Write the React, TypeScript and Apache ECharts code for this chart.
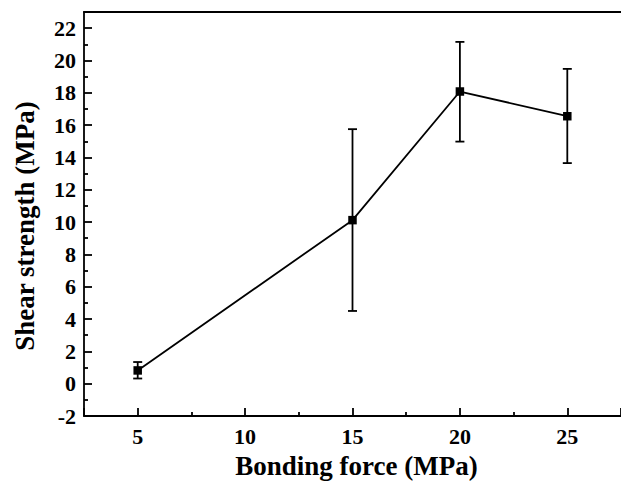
import React, { useEffect, useRef } from "react";
import * as echarts from "echarts";

const bondingForce = [5, 15, 20, 25];
const shearStrength = [0.82, 10.12, 18.08, 16.55];
const errLow = [0.32, 4.5, 14.98, 13.65];
const errHigh = [1.34, 15.75, 21.15, 19.48];

const FONT = "'Liberation Serif', 'Times New Roman', serif";

export default function App() {
  const ref = useRef<HTMLDivElement>(null);
  useEffect(() => {
    if (!ref.current) return;
    const chart = echarts.init(ref.current, undefined, { renderer: "svg" });
    const lineData = bondingForce.map((x, i) => [x, shearStrength[i]]);
    const errData = bondingForce.map((x, i) => [x, errLow[i], errHigh[i]]);
    const axisLineStyle = { color: "#000", width: 1.8 };
    chart.setOption({
      animation: false,
      backgroundColor: "#fff",
      grid: { left: 84, top: 12, bottom: 69, right: -8.5, containLabel: false },
      graphic: [
        {
          type: "text",
          x: 25,
          y: 226,
          rotation: Math.PI / 2,
          style: {
            text: "Shear strength (MPa)",
            fill: "#000",
            font: "bold 27px " + FONT,
            align: "center",
            verticalAlign: "middle",
          },
        },
      ],
      xAxis: [
        {
          type: "value",
          min: 2.5,
          max: 27.5,
          splitNumber: 5,
          position: "bottom",
          axisLine: { show: true, onZero: false, lineStyle: axisLineStyle },
          axisTick: { show: true, inside: true, length: 8, lineStyle: axisLineStyle },
          minorTick: { show: true, splitNumber: 2, length: 4, lineStyle: axisLineStyle },
          axisLabel: {
            color: "#000",
            fontFamily: FONT,
            fontWeight: "bold",
            fontSize: 22,
            margin: 9,
            showMinLabel: false,
            showMaxLabel: false,
          },
          splitLine: { show: false },
          name: "Bonding force (MPa)",
          nameLocation: "middle",
          nameGap: 36,
          nameTextStyle: {
            color: "#000",
            fontFamily: FONT,
            fontWeight: "bold",
            fontSize: 27,
            padding: [0, 0, 0, 8],
          },
        },
        {
          type: "value",
          min: 2.5,
          max: 27.5,
          position: "top",
          axisLine: { show: true, onZero: false, lineStyle: axisLineStyle },
          axisTick: { show: false },
          axisLabel: { show: false },
          splitLine: { show: false },
        },
      ],
      yAxis: {
        type: "value",
        min: -2,
        max: 23,
        interval: 2,
        axisLine: { show: true, onZero: false, lineStyle: axisLineStyle },
        axisTick: { show: true, inside: true, length: 8, lineStyle: axisLineStyle },
        minorTick: { show: true, splitNumber: 2, length: 4, lineStyle: axisLineStyle },
        axisLabel: {
          color: "#000",
          fontFamily: FONT,
          fontWeight: "bold",
          fontSize: 22,
          margin: 8,
          showMaxLabel: false,
        },
        splitLine: { show: false },
      },
      series: [
        {
          type: "custom",
          xAxisIndex: 0,
          yAxisIndex: 0,
          data: errData,
          encode: { x: 0, y: [1, 2] },
          z: 1,
          renderItem: (params: any, api: any) => {
            const x = api.value(0);
            const lo = api.coord([x, api.value(1)]);
            const hi = api.coord([x, api.value(2)]);
            const half = 4.5;
            const style = { stroke: "#000", lineWidth: 1.8 };
            return {
              type: "group",
              children: [
                { type: "line", shape: { x1: lo[0], y1: lo[1], x2: hi[0], y2: hi[1] }, style },
                { type: "line", shape: { x1: hi[0] - half, y1: hi[1], x2: hi[0] + half, y2: hi[1] }, style },
                { type: "line", shape: { x1: lo[0] - half, y1: lo[1], x2: lo[0] + half, y2: lo[1] }, style },
              ],
            };
          },
        },
        {
          type: "line",
          xAxisIndex: 0,
          yAxisIndex: 0,
          data: lineData,
          symbol: "rect",
          symbolSize: 8.5,
          lineStyle: { color: "#000", width: 1.8 },
          itemStyle: { color: "#000" },
          z: 2,
        },
      ],
    });
    return () => chart.dispose();
  }, []);
  return <div ref={ref} style={{ width: 621, height: 485, position: "absolute", left: 0, top: 0 }} />;
}
